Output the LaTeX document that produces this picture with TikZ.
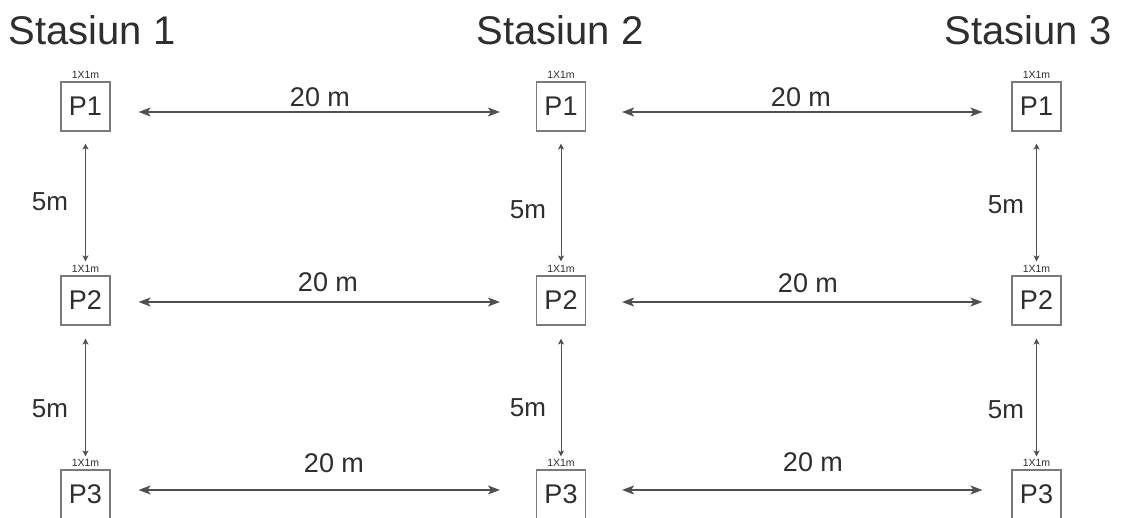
\documentclass[tikz,border=0pt]{standalone}
\usepackage{fontspec}
\setmainfont{Liberation Sans}
\usetikzlibrary{arrows.meta}
\definecolor{ink}{HTML}{2E2E2E}
\definecolor{rule}{HTML}{505050}
\definecolor{frame}{HTML}{7A7A7A}
\tikzset{
  plot/.style={draw=frame, line width=1.1pt, minimum width=49pt, minimum height=49pt,
    inner sep=0pt, text=ink, font=\fontsize{27}{27}\selectfont},
  size/.style={text=ink, inner sep=0pt, font=\fontsize{10.5}{10.5}\selectfont},
  title/.style={text=ink, inner sep=0pt, font=\fontsize{40}{40}\selectfont},
  dist/.style={text=ink, inner sep=0pt, font=\fontsize{27}{27}\selectfont},
  gap/.style={text=ink, inner sep=0pt, font=\fontsize{26}{26}\selectfont},
  hdim/.style={draw=rule, line width=1.2pt, {Stealth[length=12pt,width=9pt,inset=3pt]}-{Stealth[length=12pt,width=9pt,inset=3pt]}},
  vdim/.style={draw=rule, line width=1.0pt, {Stealth[length=6pt,width=6pt,inset=1.5pt]}-{Stealth[length=6pt,width=6pt,inset=1.5pt]}},
}
\begin{document}
\begin{tikzpicture}[x=1pt,y=-1pt]
\useasboundingbox[fill=white] (0,0) rectangle (1122,518);

% station titles
\node[title] (t1) at (92,30) {Stasiun 1};
\node[title] (t2) at (560,30) {Stasiun 2};
\node[title] (t3) at (1028,30) {Stasiun 3};

% sampling plots: columns = stations, rows = P1..P3
\foreach \c/\x in {1/85.5, 2/561, 3/1036.5}{
  \foreach \r/\y in {1/106.5, 2/300.5, 3/494.5}{
    \node[plot] (b\c\r) at (\x,\y) {P\r};
    \node[size, anchor=base] (s\c\r) at ([yshift=2.5pt]b\c\r.north) {1X1m};
  }
}

% 20 m spacing between stations (dimension line sits a little off the box centre)
\foreach \r/\dy in {1/-5.5, 2/-1.5, 3/4.5}{
  \draw[hdim, shorten <=28pt, shorten >=36pt] ([yshift=\dy pt]b1\r.east) -- ([yshift=\dy pt]b2\r.west);
  \draw[hdim, shorten <=36pt, shorten >=29pt] ([yshift=\dy pt]b2\r.east) -- ([yshift=\dy pt]b3\r.west);
}
\node[dist] (d11) at (320,97) {20 m};
\node[dist] (d21) at (801,97) {20 m};
\node[dist] (d12) at (328,282) {20 m};
\node[dist] (d22) at (808,283) {20 m};
\node[dist] (d13) at (334,463) {20 m};
\node[dist] (d23) at (813,462) {20 m};

% 5 m spacing between plots
\foreach \c in {1,2,3}{
  \draw[vdim, shorten <=12pt, shorten >=14pt] (b\c1.south) -- (b\c2.north);
  \draw[vdim, shorten <=13pt, shorten >=13pt] (b\c2.south) -- (b\c3.north);
}
\node[gap] (g11) at (50,202) {5m};
\node[gap] (g12) at (50,409) {5m};
\node[gap] (g21) at (528,210) {5m};
\node[gap] (g22) at (528,408) {5m};
\node[gap] (g31) at (1006,205) {5m};
\node[gap] (g32) at (1006,410) {5m};
\end{tikzpicture}
\end{document}
